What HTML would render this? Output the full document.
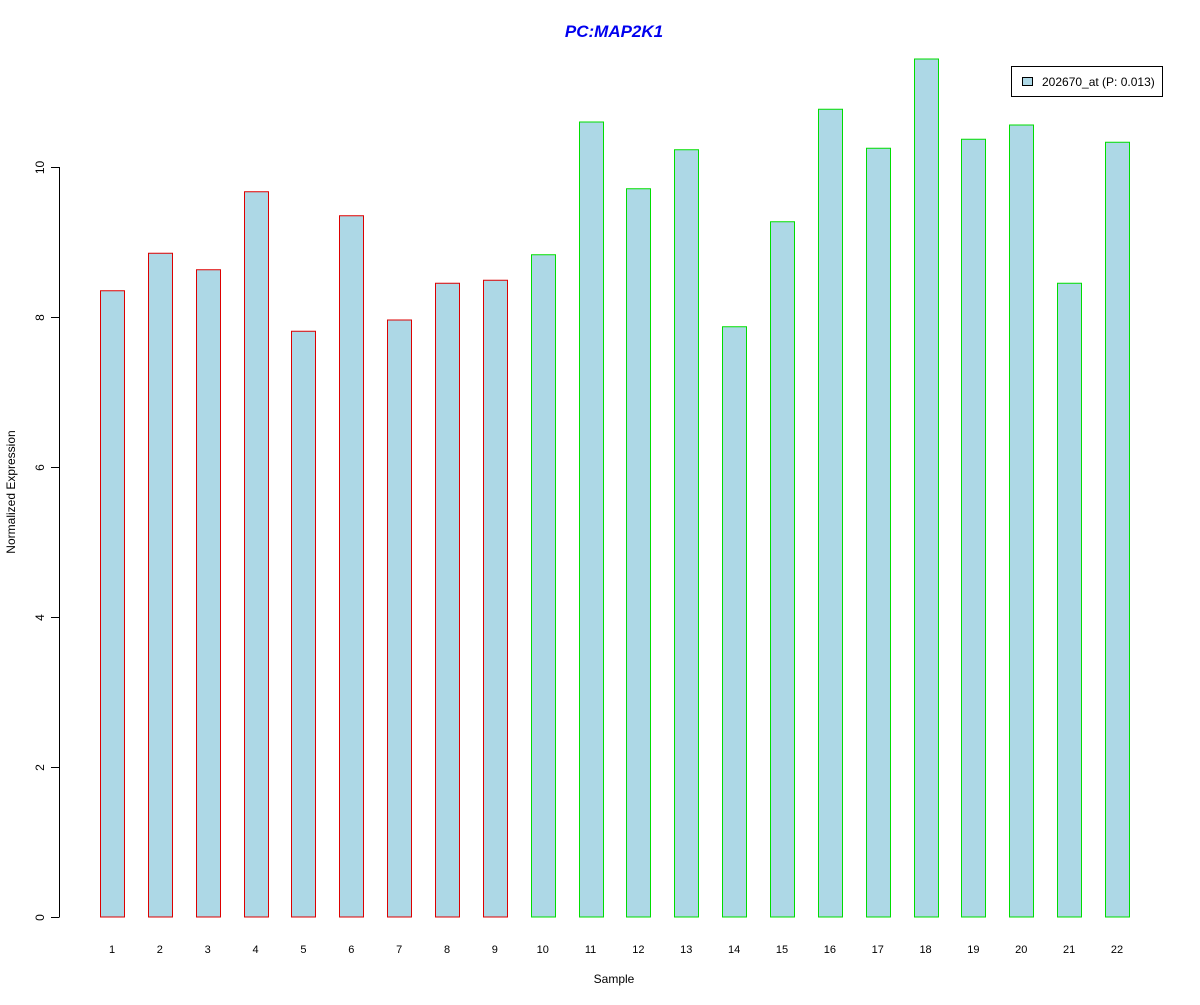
<!DOCTYPE html>
<html><head><meta charset="utf-8"><style>
html,body{margin:0;padding:0;background:#fff;}
text{font-family:"Liberation Sans",Arial,sans-serif;}
</style></head><body>
<svg id="chart" width="1200" height="1000" xmlns="http://www.w3.org/2000/svg">
<text x="614" y="37" text-anchor="middle" font-size="17" font-weight="bold" font-style="italic" fill="#0000ee">PC:MAP2K1</text>
<text x="614" y="983" text-anchor="middle" font-size="12">Sample</text>
<text transform="translate(15,492) rotate(-90)" text-anchor="middle" font-size="12">Normalized Expression</text>
<g id="yaxis"></g>
<g id="bars"></g>
<g id="xlabels"></g>
<g>
<rect x="1011.5" y="66.5" width="151" height="30" fill="#fff" stroke="#000"/>
<rect x="1022.5" y="77.5" width="10" height="8" fill="#add8e6" stroke="#000"/>
<text x="1042" y="86" font-size="12">202670_at (P: 0.013)</text>
</g>
</svg>
<script>
const categories = ["1","2","3","4","5","6","7","8","9","10","11","12","13","14","15","16","17","18","19","20","21","22"];
const values = [8.35,8.85,8.63,9.67,7.81,9.35,7.96,8.45,8.49,8.83,10.6,9.71,10.23,7.87,9.27,10.77,10.25,11.44,10.37,10.56,8.45,10.33];
const groups = ["a","a","a","a","a","a","a","a","a","b","b","b","b","b","b","b","b","b","b","b","b","b"];
const yTicks = [0,2,4,6,8,10];
const NS="http://www.w3.org/2000/svg";
function yScale(v){return 917-75*v;}
function xScale(i){return 112+i*(1117-112)/21;}
const bw=24;
const ya=document.getElementById('yaxis');
function mk(tag,attrs,parent){const e=document.createElementNS(NS,tag);for(const k in attrs)e.setAttribute(k,attrs[k]);parent.appendChild(e);return e;}
const axl=mk('line',{x1:59.5,x2:59.5,y1:yScale(yTicks[0]),y2:yScale(yTicks[yTicks.length-1]),stroke:'#000'},ya);


yTicks.forEach(t=>{
 const y=Math.round(yScale(t))+0.5;
 const l=mk('line',{x1:51,x2:59.5,y1:y,y2:y,stroke:'#000'},ya);
 
 
 const tx=mk('text',{transform:`translate(44,${y}) rotate(-90)`,'text-anchor':'middle','font-size':'12'},ya);
 
 
 tx.textContent=t;
});
const bg=document.getElementById('bars'), xl=document.getElementById('xlabels');
values.forEach((v,i)=>{
 const cx=xScale(i), top=yScale(v);
 const r=mk('rect',{x:Math.round(cx-bw/2)+0.5,y:top,width:bw,height:yScale(0)-top,fill:'#add8e6',stroke:groups[i]==='a'?'#dd0000':'#00dd00'},bg);
 
 
 const t=mk('text',{x:cx,y:953,'text-anchor':'middle','font-size':'11'},xl);
 
 
 t.textContent=categories[i];
});
</script>
</body></html>
